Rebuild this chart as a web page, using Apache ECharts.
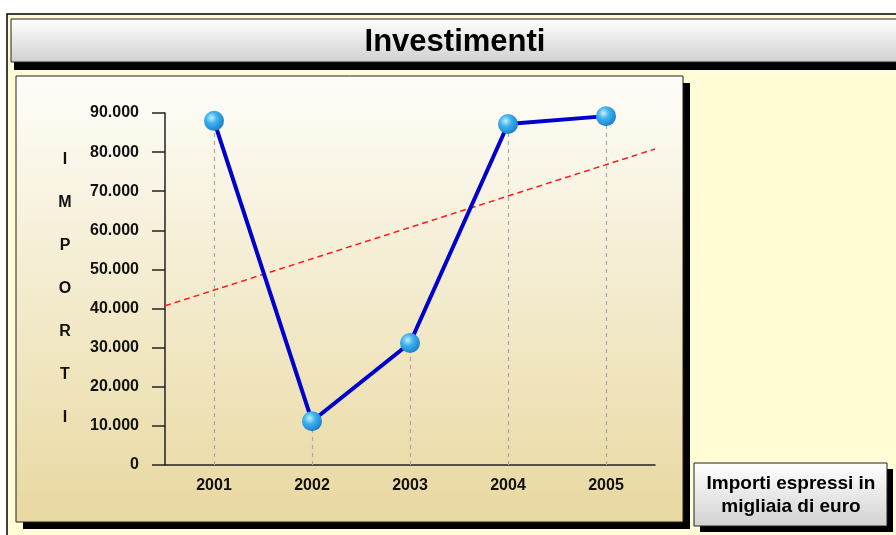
<!DOCTYPE html>
<html><head><meta charset="utf-8">
<script src="https://cdn.jsdelivr.net/npm/echarts@6/dist/echarts.min.js"></script>
<style>html,body{margin:0;padding:0;background:#fff}#c{width:896px;height:535px}</style>
</head><body><div id="c"></div>
<script>
const categories = ['2001','2002','2003','2004','2005'];
const values = [88000, 11200, 31200, 87200, 89200];
const trendX = [0.5, 5.5];
const trendY = [40700, 80800];
const yTicks = {min: 0, max: 90000, interval: 10000};
const titleText = 'Investimenti';
const yName = 'IMPORTI';
const noteText = 'Importi espressi in\nmigliaia di euro';

const FONT = '"Liberation Sans", Arial, sans-serif';
const fmt = v => String(v).replace(/\B(?=(\d{3})+(?!\d))/g, '.');

function box(x, y, w, h, dx, dy, top, bottom, z) {
  return [
    {type: 'rect', z: z, shape: {x: x + dx, y: y + dy, width: w, height: h}, style: {fill: '#000'}},
    {type: 'rect', z: z + 1, shape: {x: x, y: y, width: w, height: h},
      style: {fill: new echarts.graphic.LinearGradient(0,0,0,1,[{offset:0,color:top},{offset:1,color:bottom}]),
        stroke: '#222', lineWidth: 1}}
  ];
}

const chart = echarts.init(document.getElementById('c'));
const sphere = new echarts.graphic.RadialGradient(0.38, 0.35, 0.7, [
  {offset: 0, color: '#c8efff'},
  {offset: 0.4, color: '#3db3f0'},
  {offset: 1, color: '#1a7cc4'}
]);
chart.setOption({
  backgroundColor: '#ffffff',
  animation: false,
  graphic: [
    {type: 'rect', z: -20, shape: {x: 7, y: 14, width: 900, height: 530},
      style: {fill: '#fffcd6', stroke: '#000', lineWidth: 1.5}},
    ...box(11, 19, 900, 43, 3, 8, '#ffffff', '#d0d0d0', -18),
    {type: 'text', z: -15, x: 455, y: 42,
      style: {text: titleText, font: 'bold 31px ' + FONT, fill: '#000', align: 'center', verticalAlign: 'middle'}},
    ...box(16, 76, 667, 446, 7, 7, '#fefdf9', '#e8d8a0', -18),
    ...box(694, 463, 193, 63, 6, 6, '#ffffff', '#d2d2d2', -18),
    {type: 'text', z: -15, x: 791, y: 495,
      style: {text: noteText, font: 'bold 19px ' + FONT, fill: '#000', align: 'center', verticalAlign: 'middle', lineHeight: 23}}
  ],
  grid: {left: 165, right: 241, top: 113, bottom: 70},
  xAxis: [
    {type: 'category', data: categories, boundaryGap: true,
      axisLine: {lineStyle: {color: '#222', width: 1.5}},
      axisTick: {length: 17, lineStyle: {color: '#222', width: 1.5}},
      axisLabel: {margin: 13, color: '#111', fontWeight: 'bold', fontSize: 16, fontFamily: FONT},
      splitLine: {show: false}},
    {type: 'value', min: trendX[0], max: trendX[1], show: false}
  ],
  yAxis: {type: 'value', min: yTicks.min, max: yTicks.max, interval: yTicks.interval,
    name: yName.split('').join('\n'), nameLocation: 'middle', nameRotate: 0, nameGap: 100,
    nameTextStyle: {fontWeight: 'bold', fontSize: 16, fontFamily: FONT, color: '#111', lineHeight: 43, align: 'center'},
    axisLine: {show: true, lineStyle: {color: '#222', width: 1.5}},
    axisTick: {show: true, length: 13, lineStyle: {color: '#222', width: 1.5}},
    axisLabel: {margin: 26, color: '#111', fontWeight: 'bold', fontSize: 16, fontFamily: FONT, formatter: fmt},
    splitLine: {show: false}},
  series: [
    {type: 'line', z: 1, data: [], silent: true,
      markLine: {silent: true, symbol: 'none', label: {show: false},
        lineStyle: {color: '#a8a8a8', type: [4, 4], width: 1.2},
        data: values.map((v, i) => [{coord: [i, 0]}, {coord: [i, v]}])}},
    {type: 'line', z: 3, xAxisIndex: 1, data: trendX.map((x, i) => [x, trendY[i]]),
      symbol: 'none', lineStyle: {color: '#ff1a1a', width: 1.5, type: [6, 4]}},
    {type: 'line', z: 5, data: values, symbol: 'circle', symbolSize: 20,
      lineStyle: {color: '#0000cc', width: 4},
      itemStyle: {color: sphere, borderWidth: 0}}
  ]
});
</script></body></html>
